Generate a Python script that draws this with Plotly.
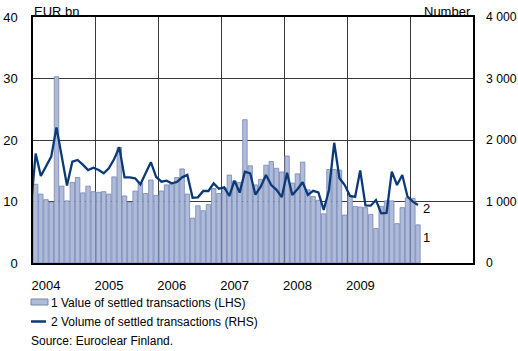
import pandas as pd
import plotly.graph_objects as go

# Monthly value of settled transactions, EUR bn (Jan 2004 - Feb 2010)
value_bn = [
    12.8, 11.2, 10.3, 9.9, 30.3, 12.5, 10.1, 13.1, 13.9, 11.4, 12.5, 11.6,   # 2004
    11.5, 11.6, 11.2, 14.0, 18.8, 10.9, 9.9, 11.7, 13.0, 11.3, 13.5, 11.0,   # 2005
    11.7, 12.7, 12.8, 13.9, 15.3, 11.2, 7.3, 9.3, 8.5, 9.5, 12.1, 11.3,      # 2006
    12.2, 14.3, 13.3, 13.1, 23.3, 15.8, 12.7, 13.6, 15.9, 16.5, 15.4, 14.8,  # 2007
    17.4, 13.0, 14.5, 16.4, 11.9, 10.8, 10.2, 8.0, 15.2, 15.2, 15.1, 7.8,    # 2008
    10.9, 9.2, 9.1, 9.0, 7.9, 5.6, 9.2, 10.1, 10.1, 6.4, 9.0, 10.6,          # 2009
    10.5, 6.2,                                                               # 2010
]

# Monthly volume of settled transactions, number (Dec 2003 - Feb 2010)
volume = [
    810,                                                                     # Dec 2003
    1780, 1415, 1570, 1730, 2205, 1750, 1260, 1647, 1675, 1600, 1512, 1550,  # 2004
    1512, 1458, 1539, 1686, 1881, 1393, 1393, 1377, 1279, 1458, 1640, 1400,  # 2005
    1322, 1339, 1295, 1317, 1393, 1431, 1062, 1068, 1171, 1171, 1295, 1208,  # 2006
    1230, 1089, 1339, 1144, 1485, 1458, 1110, 1241, 1431, 1268, 1190, 1070,  # 2007
    1468, 1106, 1200, 1314, 1106, 1174, 1146, 862, 1187, 1955, 1377, 1268,   # 2008
    1090, 1075, 1505, 938, 932, 1024, 808, 815, 1485, 1268, 1431, 1078,      # 2009
    997, 943,                                                                # 2010
]

value_months = pd.date_range("2004-01-01", periods=len(value_bn), freq="MS")
volume_months = pd.date_range("2003-12-01", periods=len(volume), freq="MS")

year_starts = pd.date_range("2004-01-01", "2011-01-01", freq="YS")
year_labels = ["2004", "2005", "2006", "2007", "2008", "2009", "", ""]

lhs_ticks = [0, 10, 20, 30, 40]
rhs_ticks = [0, 1000, 2000, 3000, 4000]
rhs_labels = ["0", "1 000", "2 000", "3 000", "4 000"]

BAR_FILL = "#b0bbd8"
BAR_EDGE = "#7386b8"
LINE_COLOR = "#0c3a78"
GRID = "#3a3a3a"
FONT = "Arial, Liberation Sans, sans-serif"

W, H = 518, 351
L, R, T, B = 33, 473, 17, 263


def px(x):
    return (x - L) / (R - L)


def py(y):
    return (B - y) / (B - T)


fig = go.Figure()

fig.add_trace(go.Bar(
    x=value_months, y=value_bn,
    xperiod="M1", xperiodalignment="middle",
    marker=dict(color=BAR_FILL, line=dict(color=BAR_EDGE, width=0.8)),
    name="1 Value of settled transactions (LHS)",
    yaxis="y",
))

fig.add_trace(go.Scatter(
    x=volume_months, y=volume,
    xperiod="M1", xperiodalignment="middle",
    mode="lines", line=dict(color=LINE_COLOR, width=2.3),
    name="2 Volume of settled transactions (RHS)",
    yaxis="y2",
))

annotations = [
    dict(text="EUR bn", x=px(32), y=py(11.5), xanchor="left", yanchor="middle"),
    dict(text="Number", x=px(473), y=py(11.5), xanchor="right", yanchor="middle"),
    dict(text="2", x=px(421), y=py(208), xanchor="left", yanchor="middle"),
    dict(text="1", x=px(421), y=py(237), xanchor="left", yanchor="middle"),
    dict(text="1 Value of settled transactions (LHS)", x=px(49), y=py(302.5),
         xanchor="left", yanchor="middle", font=dict(size=12)),
    dict(text="2 Volume of settled transactions (RHS)", x=px(49), y=py(321.5),
         xanchor="left", yanchor="middle", font=dict(size=12)),
    dict(text="Source: Euroclear Finland.", x=px(29), y=py(340.5),
         xanchor="left", yanchor="middle", font=dict(size=12)),
]
for a in annotations:
    a.update(xref="paper", yref="paper", showarrow=False)
    a.setdefault("font", dict(size=13))
    a["font"] = dict(family=FONT, color="black", **a["font"])

shapes = [
    dict(type="rect", xref="paper", yref="paper",
         x0=px(31), x1=px(48), y0=py(305), y1=py(299),
         fillcolor=BAR_FILL, line=dict(color=BAR_EDGE, width=1)),
    dict(type="line", xref="paper", yref="paper",
         x0=px(31), x1=px(46), y0=py(321.5), y1=py(321.5),
         line=dict(color=LINE_COLOR, width=2.5)),
]

fig.update_layout(
    width=W, height=H,
    margin=dict(l=L, r=W - R, t=T, b=H - B, pad=0, autoexpand=False),
    paper_bgcolor="white", plot_bgcolor="white",
    font=dict(family=FONT, size=13, color="black"),
    showlegend=False,
    bargap=0.12,
    xaxis=dict(
        type="date", automargin=False,
        range=["2004-01-01", "2011-01-01"],
        tickmode="array", tickvals=year_starts, ticktext=year_labels,
        ticks="", showgrid=True, gridcolor=GRID, gridwidth=1,
        showline=True, linecolor="black", linewidth=1.5, mirror=True,
        ticklabelshift=13, ticklabelstandoff=10,
        zeroline=False, fixedrange=True,
    ),
    yaxis=dict(
        automargin=False,
        range=[0, 40], tickmode="array", tickvals=lhs_ticks,
        ticks="", showgrid=True, gridcolor=GRID, gridwidth=1,
        showline=True, linecolor="black", linewidth=1.5, mirror=True,
        ticklabelstandoff=11, zeroline=False,
    ),
    yaxis2=dict(
        automargin=False,
        range=[0, 4000], overlaying="y", side="right",
        tickmode="array", tickvals=rhs_ticks, ticktext=rhs_labels,
        tickfont=dict(size=12.2),
        ticks="", showgrid=False, showline=False, zeroline=False,
        ticklabelstandoff=12,
    ),
    annotations=annotations,
    shapes=shapes,
)

fig.write_html("out.html")
